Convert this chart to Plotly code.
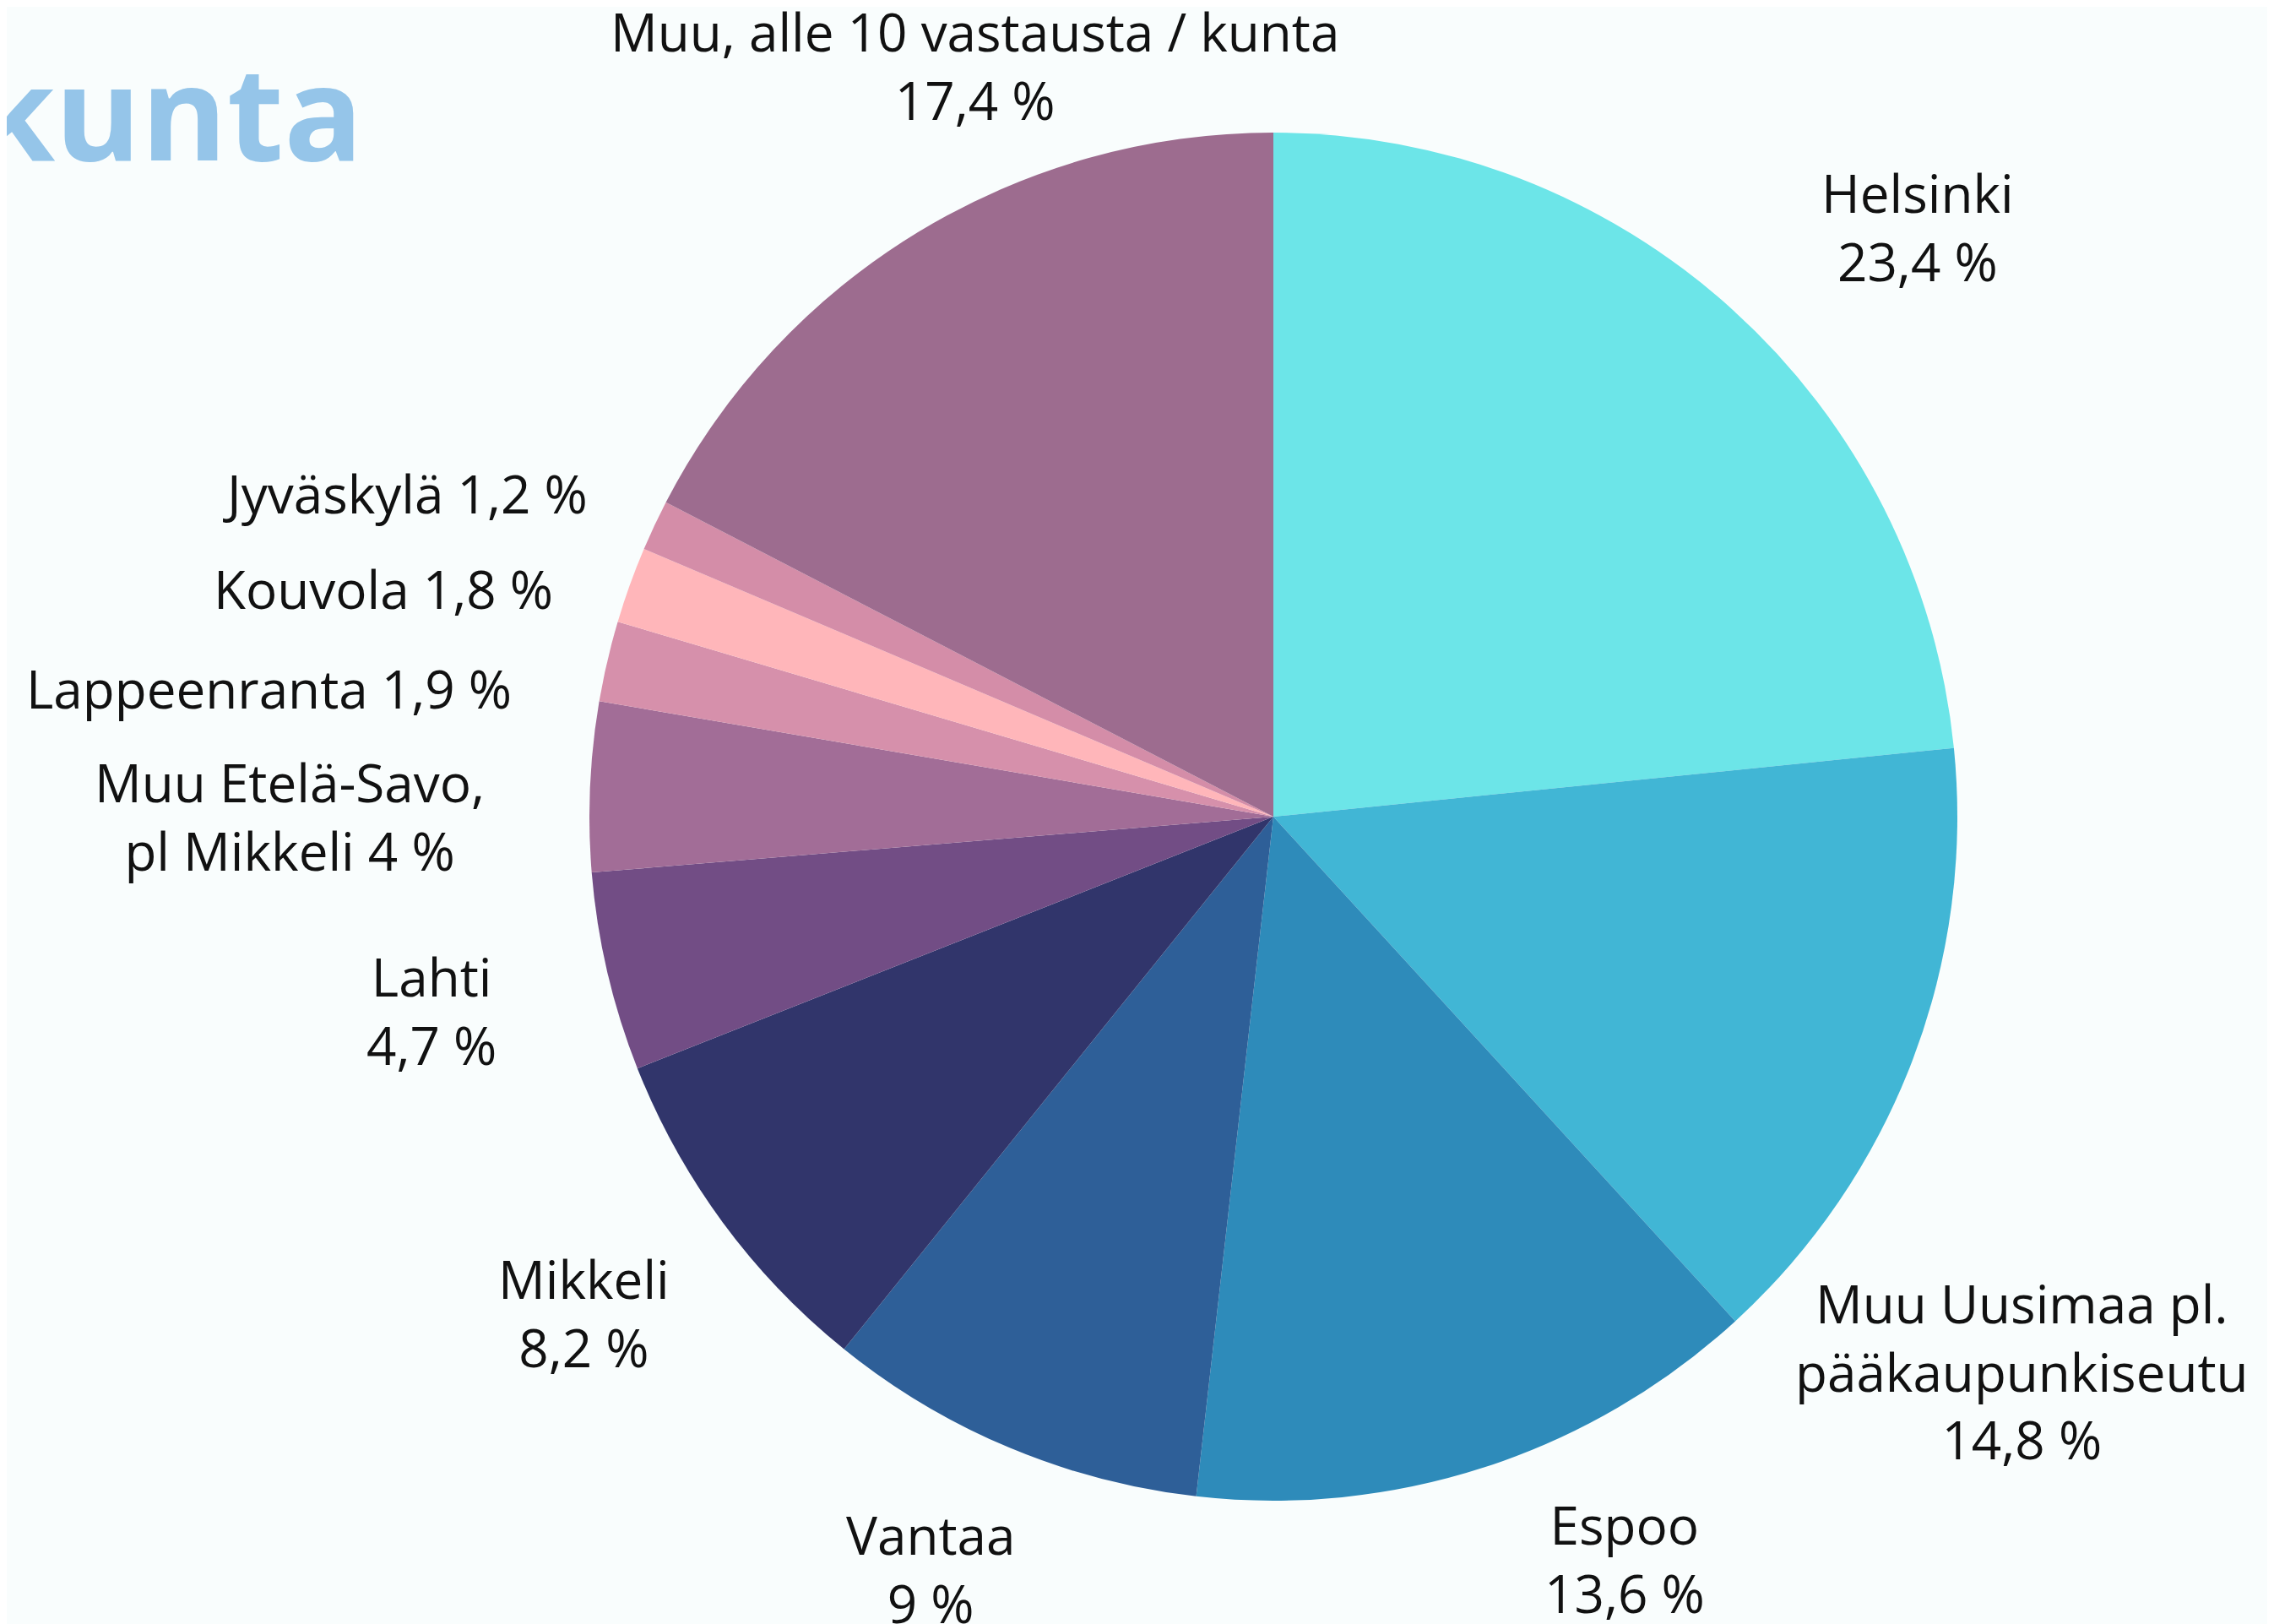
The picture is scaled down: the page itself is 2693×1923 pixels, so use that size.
import plotly.graph_objects as go

# ---- data ----
categories = [
    "Helsinki",
    "Muu Uusimaa pl.<br>pääkaupunkiseutu",
    "Espoo",
    "Vantaa",
    "Mikkeli",
    "Lahti",
    "Muu Etelä-Savo,<br>pl Mikkeli",
    "Lappeenranta",
    "Kouvola",
    "Jyväskylä",
    "Muu, alle 10 vastausta / kunta",
]
values = [23.4, 14.8, 13.6, 9.0, 8.2, 4.7, 4.0, 1.9, 1.8, 1.2, 17.4]
# separator between name and value in each label ("<br>" = two-line label)
label_sep = ["<br>", "<br>", "<br>", "<br>", "<br>", "<br>", " ", " ", " ", " ", "<br>"]
title_text = "kunta"

# ---- styles ----
colors = ["#6CE5E8", "#41B6D5", "#2E8BBA", "#2E5F98", "#31356B", "#724D85",
          "#A26D97", "#D690AB", "#FFB6BA", "#D48DA8", "#9D6C8F"]
W, H = 2693, 1923
BG = "#F9FDFD"
FONT = "Open Sans"
# label block centres in pixels (layout, not data)
label_pos = [(2263, 261), (2386, 1615), (1916, 1837), (1094, 1849), (683, 1546),
             (503, 1188), (335, 958), (310, 807), (446, 689), (472, 576), (1146, 70)]
CX, CY, R = 1500, 959, 810


def fmt(v):
    s = ("%.1f" % v).rstrip("0").rstrip(".")
    return s.replace(".", ",") + " %"


fig = go.Figure(go.Pie(
    labels=[c.replace("<br>", " ") for c in categories],
    values=values,
    sort=False,
    direction="clockwise",
    rotation=0,
    marker=dict(colors=colors, line=dict(width=0)),
    textinfo="none",
    hoverinfo="skip",
    domain=dict(x=[(CX - R) / W, (CX + R) / W], y=[1 - (CY + R) / H, 1 - (CY - R) / H]),
))

annotations = []
for cat, v, sep, (px, py) in zip(categories, values, label_sep, label_pos):
    annotations.append(dict(
        text=cat + sep + fmt(v), x=px / W, y=1 - py / H, xref="paper", yref="paper",
        xanchor="center", yanchor="middle", align="center", showarrow=False,
        font=dict(family=FONT, size=62, color="#111111"),
    ))
annotations.append(dict(
    text="<b>" + title_text + "</b>", x=424 / W, y=1 - 121 / H, xref="paper", yref="paper",
    xanchor="right", yanchor="middle", showarrow=False,
    font=dict(family=FONT, size=155, color="#95C5E9"),
))

fig.update_layout(
    width=W, height=H, margin=dict(l=0, r=0, t=0, b=0),
    paper_bgcolor=BG, plot_bgcolor=BG, showlegend=False,
    annotations=annotations,
)
fig.write_html("out.html")
